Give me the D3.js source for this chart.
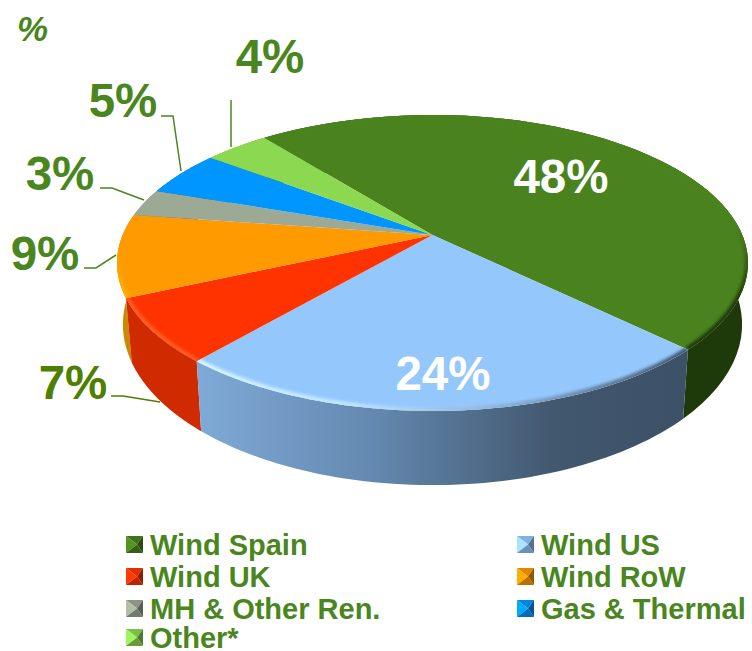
<!DOCTYPE html>
<html>
<head>
<meta charset="utf-8">
<script src="https://cdn.jsdelivr.net/npm/d3@7"></script>
<style>
    html, body { margin: 0; padding: 0; background: #fff; }
    svg { display: block; }
    text { font-family: "Liberation Sans", Arial, sans-serif; font-weight: bold; }
</style>
</head>
<body>
<div id="chart"></div>
<script>
const categories = ['Wind Spain', 'Wind US', 'Wind UK', 'Wind RoW', 'MH & Other Ren.', 'Gas & Thermal', 'Other*'];
const shares = [48, 24, 7, 9, 3, 5, 4];
const topColors = ['#4a831e', '#94c8fd', '#ff3300', '#ff9a00', '#9ca995', '#0096ff', '#8cd850'];
const sideColors = ['#1f3a0a', 'url(#sideUS)', '#cf2a00', '#c98a00', '#6f7a69', '#006ab8', '#64a036'];
const rimColors = ['url(#rimSpain)', 'url(#rimUS)', '#ff5c20', 'url(#rimRoW)', '#9ca995', '#0096ff', '#8cd850'];
const labelColors = ['#fff', '#fff', '#4f7f00', '#4a861e', '#4a861e', '#4a861e', '#4a861e'];

const width = 752, height = 651;
const green = '#4a861e';

const svg = d3.select('#chart').append('svg')
    .attr('width', width)
    .attr('height', height);

const defs = svg.append('defs');
defs.append('filter').attr('id', 'soft')
    .attr('filterUnits', 'userSpaceOnUse')
    .attr('x', 0).attr('y', 0).attr('width', width).attr('height', height)
    .append('feGaussianBlur').attr('stdDeviation', 1.4);

function gradient(id, x1, y1, x2, y2, stops) {
    const g = defs.append('linearGradient').attr('id', id)
        .attr('gradientUnits', 'userSpaceOnUse')
        .attr('x1', x1).attr('x2', x2).attr('y1', y1).attr('y2', y2);
    stops.forEach(s => g.append('stop').attr('offset', s[0]).attr('stop-color', s[1]));
}
gradient('sideUS', 200, 0, 690, 0, [[0, '#7fa9d6'], [0.35, '#6489b0'], [0.72, '#42586f'], [1, '#3c5066']]);
gradient('rimUS', 200, 0, 690, 0, [[0, '#d4f6ff'], [0.3, '#c0e6ff'], [0.6, '#8fb4dc'], [1, '#3f5870']]);
gradient('rimSpain', 0, 225, 0, 300, [[0, '#4a831e'], [1, '#1f3a0a']]);
gradient('rimRoW', 0, 250, 0, 300, [[0, '#ff9a00'], [1, '#ffb400']]);

// perspective of the pie disc: k tilts it, so the apex sits above the ellipse middle
const k = 0.189;
const scaleX = d3.scaleLinear().domain([-1, 1]).range([432.5 - 309.8, 432.5 + 309.8]);
const scaleY = d3.scaleLinear().domain([-1, 1]).range([235 - 142.7, 235 + 142.7]);
const scaleXLow = d3.scaleLinear().domain([-1, 1]).range([432.5 - 304, 432.5 + 304]);
const scaleYLow = d3.scaleLinear().domain([-1, 1]).range([294 - 155, 294 + 155]);

function project(angle, r, low) {
    const u = r * Math.sin(angle), v = -r * Math.cos(angle);
    const w = 1 - k * v;
    return low ? [scaleXLow(u / w), scaleYLow(v / w)] : [scaleX(u / w), scaleY(v / w)];
}

const startAngle = -38.5 * Math.PI / 180;
const pie = d3.pie().sort(null)
    .startAngle(startAngle)
    .endAngle(startAngle + 2 * Math.PI);
const arcs = pie(shares);

const line = d3.line();
const arcPoints = (d, low) => d3.range(0, 61).map(i =>
    project(d.startAngle + (d.endAngle - d.startAngle) * i / 60, 1, low));

// side walls, back ones first
const walls = arcs.slice().sort((a, b) =>
    Math.cos((b.startAngle + b.endAngle) / 2) - Math.cos((a.startAngle + a.endAngle) / 2));
svg.append('g').selectAll('path').data(walls).join('path')
    .attr('d', d => line(arcPoints(d, false).concat(arcPoints(d, true).reverse())) + 'Z')
    .attr('fill', d => sideColors[d.index]);

// top faces
const slicePath = d => line([project(0, 0, false)].concat(arcPoints(d, false))) + 'Z';
svg.append('g').selectAll('path').data(arcs).join('path')
    .attr('d', slicePath)
    .attr('fill', d => topColors[d.index]);

arcs.forEach(d => {
    defs.append('clipPath').attr('id', 'clip' + d.index)
        .append('path').attr('d', slicePath(d));
});
// soft bevel along the rim
svg.append('g').selectAll('g').data(arcs).join('g')
    .attr('clip-path', d => `url(#clip${d.index})`)
    .append('path')
    .attr('d', d => line(arcPoints(d, false)))
    .attr('fill', 'none')
    .attr('stroke', d => rimColors[d.index])
    .attr('stroke-width', 7)
    .attr('filter', 'url(#soft)');

// value labels
const labelPos = [[561, 193], [443, 390], [73, 399], [45, 270], [60, 190], [123, 117], [270, 73]];
svg.append('g').selectAll('text').data(arcs).join('text')
    .attr('x', d => labelPos[d.index][0])
    .attr('y', d => labelPos[d.index][1])
    .attr('text-anchor', 'middle')
    .attr('font-size', 47.5)
    .attr('fill', d => labelColors[d.index])
    .text(d => d.data + '%');

// leader lines: [index, elbow, label end, rim end]
const leaders = [
    [2, [123, 396], [111, 396], [160, 402]],
    [3, [96, 268], [84, 268], [116, 255]],
    [4, [112, 188], [100, 188], [144, 200]],
    [5, [173, 116], [161, 116], [181, 171]],
    [6, [231, 100], [231, 100], [231, 147]]
];
svg.append('g').selectAll('path').data(leaders).join('path')
    .attr('d', d => line([d[2], d[1], d[3]]))
    .attr('fill', 'none')
    .attr('stroke', d => d[0] === 2 ? '#4f7f00' : green)
    .attr('stroke-width', 1.5);

svg.append('text')
    .attr('x', 17).attr('y', 41)
    .attr('font-size', 35)
    .attr('font-style', 'italic')
    .attr('fill', green)
    .text('%');

// legend
const legendX = [126, 517];
const legendY = [555, 587, 619, 648];
const legendRows = [[0, 0], [1, 0], [0, 1], [1, 1], [0, 2], [1, 2], [0, 3]];
const legend = svg.append('g').selectAll('g').data(categories).join('g')
    .attr('transform', (d, i) => `translate(${legendX[legendRows[i][0]]},${legendY[legendRows[i][1]]})`);
legend.append('text')
    .attr('x', 24)
    .attr('font-size', 29)
    .attr('fill', green)
    .text(d => d);

// pyramid markers, 17px square, facets meet right of the middle
const s = 17, cxm = 11, cym = 8.5;
const facets = [
    { pts: [[0, 0], [s, 0], [cxm, cym]], f: c => d3.color(c).darker(0.35) },
    { pts: [[0, 0], [cxm, cym], [0, s]], f: c => d3.color(c).brighter(0.35) },
    { pts: [[s, 0], [s, s], [cxm, cym]], f: c => d3.color(c).darker(1.6) },
    { pts: [[0, s], [cxm, cym], [s, s]], f: c => d3.color(c).darker(0.9) }
];
legend.each(function(d, i) {
    const g = d3.select(this).append('g').attr('transform', `translate(0,${-s - 2})`);
    facets.forEach(p => {
        g.append('path')
            .attr('d', line(p.pts) + 'Z')
            .attr('fill', p.f(topColors[i]));
    });
});
</script>
</body>
</html>
